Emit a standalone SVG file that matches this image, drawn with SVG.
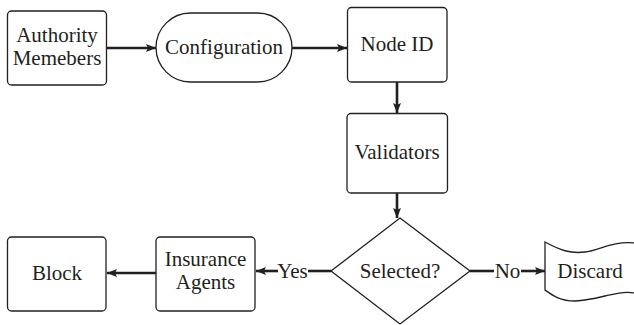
<svg xmlns="http://www.w3.org/2000/svg" width="634" height="325" viewBox="0 0 634 325">
<style>
.box{fill:#fff;stroke:#231f20;stroke-width:1.3}
.t{font-family:"Liberation Serif","Times New Roman",serif;font-size:21px;fill:#231f20;text-anchor:middle}
.c{fill:none;stroke:#231f20;stroke-width:2.6}
</style>
<defs>
<marker id="ah" markerUnits="userSpaceOnUse" markerWidth="12" markerHeight="10" refX="10" refY="4" orient="auto">
<path d="M0,0 L10,4 L0,8 L2,4 Z" fill="#231f20"/>
</marker>
</defs>
<rect width="634" height="325" fill="#fff"/>
<g id="connectors">
<line class="c" x1="107" y1="48" x2="156" y2="48" marker-end="url(#ah)"/>
<line class="c" x1="292" y1="48" x2="347" y2="48" marker-end="url(#ah)"/>
<line class="c" x1="397" y1="82" x2="397" y2="113" marker-end="url(#ah)"/>
<line class="c" x1="397" y1="193" x2="397" y2="218" marker-end="url(#ah)"/>
<line class="c" x1="156" y1="273" x2="107" y2="273" marker-end="url(#ah)"/>
<line class="c" x1="331" y1="271" x2="308" y2="271"/>
<line class="c" x1="278" y1="271" x2="256" y2="271" marker-end="url(#ah)"/>
<text class="t" x="292.5" y="278">Yes</text>
<line class="c" x1="470" y1="271" x2="494" y2="271"/>
<line class="c" x1="521" y1="271" x2="545" y2="271" marker-end="url(#ah)"/>
<text class="t" x="507.5" y="278">No</text>
</g>
<g id="authority">
<rect class="box" x="7.5" y="11" width="99" height="74" rx="4"/>
<text class="t" x="57" y="42">Authority</text>
<text class="t" x="57" y="65">Memebers</text>
</g>
<g id="configuration">
<rect class="box" x="156" y="13" width="136" height="69" rx="34.5"/>
<text class="t" x="224" y="54">Configuration</text>
</g>
<g id="nodeid">
<rect class="box" x="347.5" y="7.5" width="99.5" height="74.5" rx="4"/>
<text class="t" x="397" y="51">Node ID</text>
</g>
<g id="validators">
<rect class="box" x="347" y="113.5" width="100.5" height="79.5" rx="4"/>
<text class="t" x="397" y="159">Validators</text>
</g>
<g id="selected">
<polygon class="box" points="400,218 470,271 400,324 331,271"/>
<text class="t" x="400" y="278">Selected?</text>
</g>
<g id="insurance">
<rect class="box" x="156" y="237" width="99" height="74" rx="4"/>
<text class="t" x="205.5" y="266">Insurance</text>
<text class="t" x="205.5" y="289">Agents</text>
</g>
<g id="block">
<rect class="box" x="7.5" y="237" width="98.5" height="74" rx="4"/>
<text class="t" x="57" y="280">Block</text>
</g>
<g id="discard">
<path class="box" d="M545,242 C560,250 570,254 585,252 C600,250 612,241 635,243 L635,293 C615,290 600,300 575,301 C560,301 552,295 545,290 Z"/>
<text class="t" x="590" y="278">Discard</text>
</g>
</svg>
